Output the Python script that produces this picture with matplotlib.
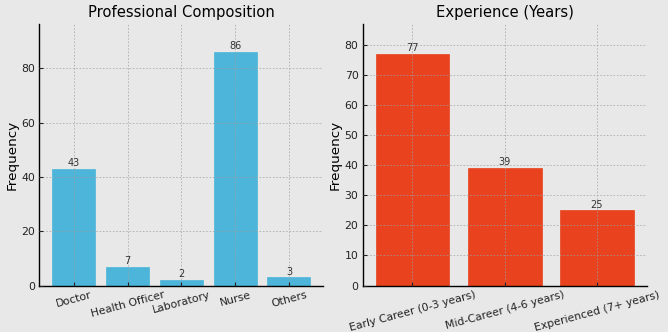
import numpy as np
import matplotlib
matplotlib.use("Agg")
import matplotlib.pyplot as plt

# data
prof_labels = ["Doctor", "Health Officer", "Laboratory", "Nurse", "Others"]
prof_counts = [43, 7, 2, 86, 3]

exp_labels = ["Early Career (0-3 years)", "Mid-Career (4-6 years)", "Experienced (7+ years)"]
exp_counts = [77, 39, 25]

BG = "#e8e8e8"
BLUE = "#4cb5d9"
RED = "#e8421e"

fig = plt.figure(figsize=(6.68, 3.32), dpi=100, facecolor=BG)
ax1 = fig.add_axes([0.059, 0.14, 0.425, 0.787])
ax2 = fig.add_axes([0.543, 0.14, 0.425, 0.787])


def style(ax):
    ax.set_facecolor(BG)
    for side in ["top", "right"]:
        ax.spines[side].set_visible(False)
    for side in ["left", "bottom"]:
        ax.spines[side].set_color("black")
        ax.spines[side].set_linewidth(1.0)
    ax.grid(True, color="#a0a0a0", ls=(0, (2, 2)), lw=0.6, alpha=0.8)
    ax.set_axisbelow(False)
    ax.tick_params(direction="in", length=3, labelsize=7.8, colors="#222222", pad=3)
    ax.set_ylabel("Frequency", fontsize=9.7, labelpad=2)


def bars(ax, labels, counts, color, ymax, rot):
    x = np.arange(len(labels))
    b = ax.bar(x, counts, width=0.8, color=color, edgecolor=color, lw=0.5, zorder=1)
    for rect, v in zip(b, counts):
        ax.text(rect.get_x() + rect.get_width() / 2, v + 0.3, str(v),
                ha="center", va="bottom", fontsize=7, color="#333333")
    ax.set_xticks(x)
    ax.set_xticklabels(labels, rotation=rot, ha="center")
    ax.set_ylim(0, ymax)


style(ax1)
bars(ax1, prof_labels, prof_counts, BLUE, 96.3, 15)
ax1.set_yticks([0, 20, 40, 60, 80])
ax1.set_title("Professional Composition", fontsize=10.6, pad=5)

style(ax2)
bars(ax2, exp_labels, exp_counts, RED, 87, 15)
ax2.set_yticks(range(0, 81, 10))
ax2.set_title("Experience (Years)", fontsize=10.6, pad=5)

fig.savefig("out.png", dpi=100, facecolor=BG)
